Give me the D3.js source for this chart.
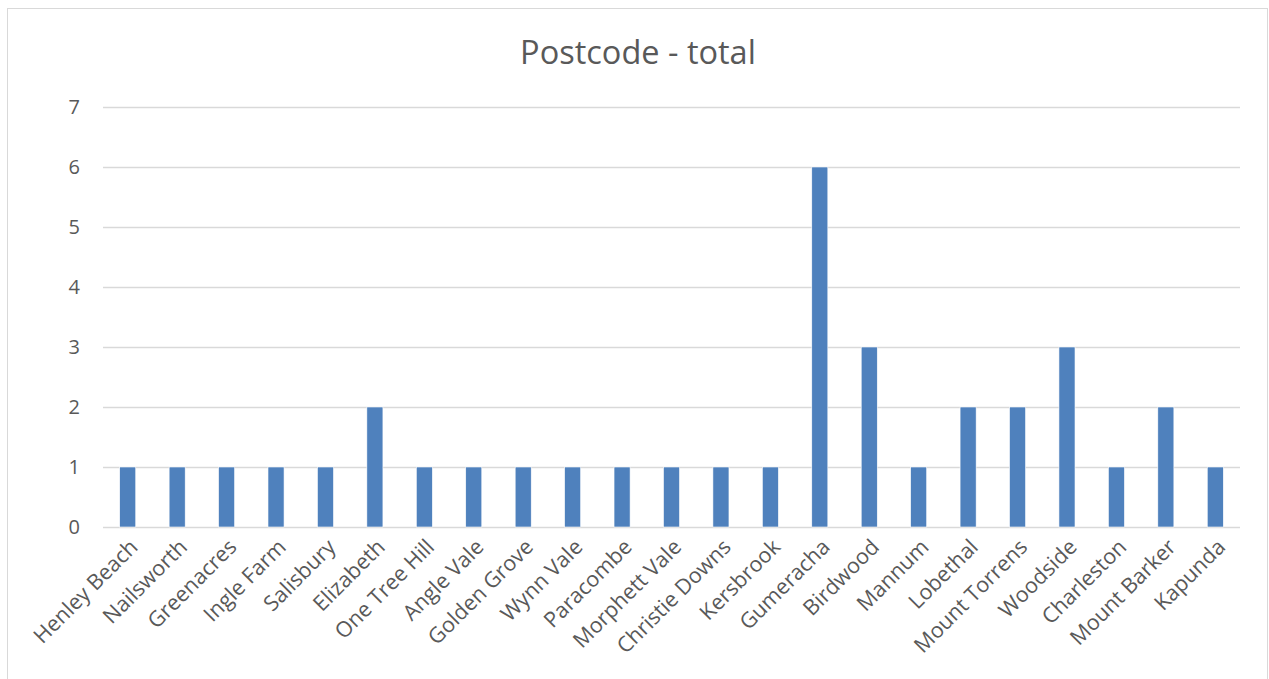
<!DOCTYPE html>
<html>
<head>
<meta charset="UTF-8">
<title>Postcode - total</title>
<script src="https://cdn.jsdelivr.net/npm/d3@7"></script>
<style>
  body { margin: 0; background: #fff; }
  text { font-family: "Open Sans", "Noto Sans", sans-serif; fill: #595959; }
</style>
</head>
<body>
<div id="chart"></div>
<script>
// data
var suburbs = ["Henley Beach", "Nailsworth", "Greenacres", "Ingle Farm", "Salisbury",
  "Elizabeth", "One Tree Hill", "Angle Vale", "Golden Grove", "Wynn Vale", "Paracombe",
  "Morphett Vale", "Christie Downs", "Kersbrook", "Gumeracha", "Birdwood", "Mannum",
  "Lobethal", "Mount Torrens", "Woodside", "Charleston", "Mount Barker", "Kapunda"];
var totals = [1, 1, 1, 1, 1, 2, 1, 1, 1, 1, 1, 1, 1, 1, 6, 3, 1, 2, 2, 3, 1, 2, 1];
var yTicks = [0, 1, 2, 3, 4, 5, 6, 7];

var W = 1269, H = 679;
var plot = { left: 103, right: 1240, top: 107, bottom: 527 };

var svg = d3.select("#chart").append("svg")
  .attr("width", W).attr("height", H);

// chart border
svg.append("rect")
  .attr("x", 7.5).attr("y", 8.5)
  .attr("width", 1260).attr("height", 680)
  .attr("fill", "#fff").attr("stroke", "#d9d9d9");

svg.append("text")
  .attr("x", 638).attr("y", 64)
  .attr("text-anchor", "middle")
  .style("font-size", "32.5px")
  .text("Postcode - total");

var x = d3.scaleBand().domain(suburbs)
  .range([plot.left, plot.right]).paddingInner(0.675).paddingOuter(0.3375);
var y = d3.scaleLinear().domain([0, 7]).range([plot.bottom, plot.top]);

// gridlines
svg.append("g").selectAll("line").data(yTicks).enter().append("line")
  .attr("x1", plot.left).attr("x2", plot.right)
  .attr("y1", function (d) { return y(d) + 0.5; })
  .attr("y2", function (d) { return y(d) + 0.5; })
  .attr("stroke", "#d9d9d9").attr("stroke-width", 1.3);

// y axis labels
var yAxis = d3.axisLeft(y).tickValues(yTicks).tickFormat(d3.format("d")).tickSize(0).tickPadding(0);
var gy = svg.append("g").attr("transform", "translate(80,0)").call(yAxis);
gy.select(".domain").remove();
gy.selectAll("text").style("font-size", "20px").attr("fill", "#595959");

// bars
svg.append("g").selectAll("rect").data(suburbs).enter().append("rect")
  .attr("x", function (d) { return x(d); })
  .attr("y", function (d, i) { return y(totals[i]); })
  .attr("width", x.bandwidth())
  .attr("height", function (d, i) { return y(0) - y(totals[i]); })
  .attr("fill", "#4f81bd")
  .attr("stroke", "#fff").attr("stroke-width", 0.6);

// x axis labels, rotated
var xAxis = d3.axisBottom(x).tickSize(0).tickPadding(0);
var gx = svg.append("g").attr("transform", "translate(0," + (plot.bottom + 16) + ")").call(xAxis);
gx.select(".domain").remove();
gx.selectAll("text")
  .style("font-size", "21.5px")
  .attr("fill", "#595959")
  .attr("text-anchor", "end")
  .attr("dy", "0.35em")
  .attr("transform", "translate(6,0) rotate(-45)");
</script>
</body>
</html>
